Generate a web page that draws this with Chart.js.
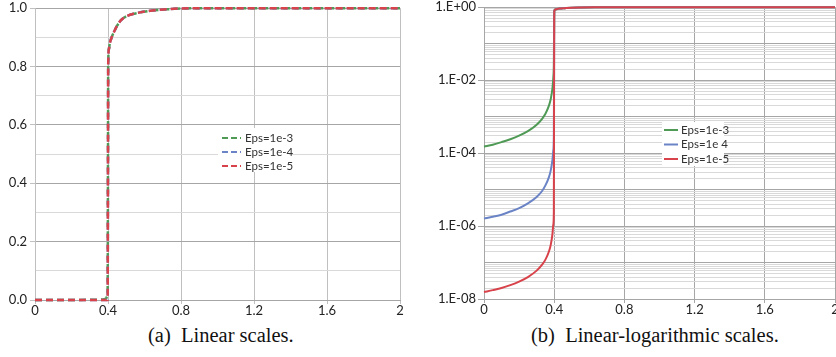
<!DOCTYPE html>
<html>
<head>
<meta charset="utf-8">
<script src="https://cdn.jsdelivr.net/npm/chart.js@4.4.0/dist/chart.umd.min.js"></script>
<style>
html, body { margin: 0; padding: 0; background: #fff; overflow: hidden; width: 836px; height: 357px; }
#wrapA { position: absolute; left: 0; top: 0; }
#wrapB { position: absolute; left: 420px; top: 0; }
.cap { position: absolute; top: 324px; font-family: "Liberation Serif", "DejaVu Serif", serif; font-size: 20.5px; color: #111; white-space: pre; }
</style>
</head>
<body>
<div id="wrapA"><canvas id="linChart" width="410" height="320"></canvas></div>
<div id="wrapB"><canvas id="logChart" width="430" height="320"></canvas></div>
<div class="cap" style="left:148px">(a)  Linear scales.</div>
<div class="cap" style="left:531px">(b)  Linear-logarithmic scales.</div>
<script>
// x positions of the sampled points
var xs = [0, 0.05, 0.1, 0.15, 0.2, 0.25, 0.3, 0.33, 0.35, 0.37, 0.38, 0.39, 0.395, 0.398,
          0.4, 0.401, 0.405, 0.41, 0.42, 0.43, 0.45, 0.47, 0.5, 0.55, 0.63, 0.72, 0.8, 1.0, 1.2, 1.6, 2.0];

// (before the jump) and the linear plot (after it)
var eps3 = [1.5e-4, 1.7e-4, 2.0e-4, 2.4e-4, 3.0e-4, 4.0e-4, 6.0e-4, 8.6e-4, 1.2e-3, 2.0e-3, 3.0e-3, 6.0e-3, 1.2e-2, 3e-2,
            0.5, 0.8, 0.86, 0.88, 0.9, 0.915, 0.94, 0.958, 0.972, 0.982, 0.991, 0.996, 0.999, 1.0, 1.0, 1.0, 1.0];
var eps4 = [1.6e-6, 1.8e-6, 2.05e-6, 2.5e-6, 3.1e-6, 4.2e-6, 6.3e-6, 9.0e-6, 1.3e-5, 2.2e-5, 3.3e-5, 6.5e-5, 1.2e-4, 3e-4,
            0.5, 0.8, 0.86, 0.88, 0.9, 0.915, 0.94, 0.958, 0.972, 0.982, 0.991, 0.996, 0.999, 1.0, 1.0, 1.0, 1.0];
var eps5 = [1.55e-8, 1.75e-8, 2.0e-8, 2.4e-8, 3.0e-8, 4.0e-8, 6.0e-8, 8.6e-8, 1.2e-7, 2.0e-7, 3.0e-7, 6.0e-7, 1.1e-6, 2.5e-6,
            0.5, 0.8, 0.86, 0.88, 0.9, 0.915, 0.94, 0.958, 0.972, 0.982, 0.991, 0.996, 0.999, 1.0, 1.0, 1.0, 1.0];

var labelsA = ['Eps=1e-3', 'Eps=1e-4', 'Eps=1e-5'];
var labelsB = ['Eps=1e-3', 'Eps=1e 4', 'Eps=1e-5'];
var colors = ['#4f9a55', '#6b84c6', '#d8434b'];

var xTicks = [0, 0.4, 0.8, 1.2, 1.6, 2];
var xTickLabels = ['0', '0.4', '0.8', '1.2', '1.6', '2'];
var yLinTicks = [0, 0.1, 0.2, 0.3, 0.4, 0.5, 0.6, 0.7, 0.8, 0.9, 1.0];
var yLinLabels = ['0.0', '', '0.2', '', '0.4', '', '0.6', '', '0.8', '', '1.0'];
var yLogLabelVals = [1e-8, 1e-6, 1e-4, 1e-2, 1];
var yLogLabels = ['1.E-08', '1.E-06', '1.E-04', '1.E-02', '1.E+00'];
var decades = [-8, -7, -6, -5, -4, -3, -2, -1];

var tickFont = { family: 'Lato', size: 13, lineHeight: 0.8 };

function pts(ys) {
  return xs.map(function (x, i) { return { x: x, y: ys[i] }; });
}

function makeSets(labels, dashed) {
  return [eps3, eps4, eps5].map(function (ys, i) {
    return {
      label: labels[i],
      data: pts(ys),
      borderColor: colors[i],
      borderWidth: dashed ? 2.5 : 2,
      borderDash: dashed ? [7, 4] : [],
      pointRadius: 0,
      fill: false,
      cubicInterpolationMode: 'monotone',
      clip: false,
      order: 2 - i
    };
  });
}

// legend drawn inside the plot, like the spreadsheet one
var boxLegend = {
  id: 'boxLegend',
  beforeDatasetsDraw: function (chart, args, o) {
    var ctx = chart.ctx;
    ctx.save();
    ctx.fillStyle = '#fff';
    ctx.fillRect(o.x, o.y, o.w, o.h);
    ctx.font = '11.5px Lato';
    ctx.textBaseline = 'middle';
    chart.data.datasets.forEach(function (ds, i) {
      var y = o.y0 + i * o.rowH;
      ctx.strokeStyle = ds.borderColor;
      ctx.lineWidth = 2;
      ctx.setLineDash(o.dash);
      ctx.beginPath();
      ctx.moveTo(o.lx, y);
      ctx.lineTo(o.lx + o.lw, y);
      ctx.stroke();
      ctx.setLineDash([]);
      ctx.fillStyle = '#333';
      ctx.fillText(ds.label, o.tx, y);
    });
    ctx.restore();
  }
};

new Chart(document.getElementById('linChart'), {
  type: 'line',
  data: { datasets: makeSets(labelsA, true) },
  plugins: [boxLegend],
  options: {
    responsive: false,
    animation: false,
    layout: { padding: { top: 7, right: 10, left: 0, bottom: 0 } },
    plugins: {
      legend: { display: false },
      tooltip: { enabled: false },
      boxLegend: { x: 218, y: 128, w: 71, h: 44, y0: 138, rowH: 14, lx: 222, lw: 19, tx: 245, dash: [6, 3] }
    },
    scales: {
      x: {
        type: 'linear', min: 0, max: 2,
        afterBuildTicks: function (s) { s.ticks = xTicks.map(function (v) { return { value: v }; }); },
        afterFit: function (s) { s.height = 20; },
        ticks: { font: tickFont, color: '#222', padding: 2, maxRotation: 0,
                 callback: function (v, i) { return xTickLabels[i]; } },
        grid: { color: '#c0c0c0', tickColor: '#c0c0c0', tickLength: 4, lineWidth: 1 },
        border: { color: '#a6a6a6' }
      },
      y: {
        type: 'linear', min: 0, max: 1,
        afterBuildTicks: function (s) { s.ticks = yLinTicks.map(function (v) { return { value: v }; }); },
        afterFit: function (s) { s.width = 35; },
        ticks: { font: tickFont, color: '#222', padding: 3,
                 callback: function (v, i) { return yLinLabels[i]; } },
        grid: {
          color: function (c) { return c.index % 2 ? '#d9d9d9' : '#a6a6a6'; },
          tickColor: function (c) { return c.index % 2 ? 'rgba(0,0,0,0)' : '#c0c0c0'; },
          tickLength: 5
        },
        border: { color: '#c0c0c0' }
      }
    }
  }
});

new Chart(document.getElementById('logChart'), {
  type: 'line',
  data: { datasets: makeSets(labelsB, false) },
  plugins: [boxLegend],
  options: {
    responsive: false,
    animation: false,
    layout: { padding: { top: 5, right: 15, left: 0, bottom: 0 } },
    plugins: {
      legend: { display: false },
      tooltip: { enabled: false },
      boxLegend: { x: 242, y: 122, w: 62, h: 44, y0: 130, rowH: 14.5, lx: 244, lw: 14, tx: 261, dash: [] }
    },
    scales: {
      x: {
        type: 'linear', min: 0, max: 2,
        afterBuildTicks: function (s) { s.ticks = xTicks.map(function (v) { return { value: v }; }); },
        afterFit: function (s) { s.height = 21; },
        ticks: { font: tickFont, color: '#222', padding: 2, maxRotation: 0,
                 callback: function (v, i) { return xTickLabels[i]; } },
        grid: { color: '#a6a6a6', tickColor: '#a6a6a6', tickLength: 4 },
        border: { color: '#a6a6a6' }
      },
      y: {
        type: 'logarithmic', min: 1e-8, max: 1,
        afterBuildTicks: function (s) {
          var t = [];
          decades.forEach(function (e) {
            for (var m = 1; m <= 9; m++) t.push({ value: m * Math.pow(10, e), major: m === 1 });
          });
          t.push({ value: 1, major: true });
          s.ticks = t;
        },
        afterFit: function (s) { s.width = 64; },
        ticks: { font: tickFont, color: '#222', padding: 2, autoSkip: false,
                 callback: function (v) {
                   for (var i = 0; i < yLogLabelVals.length; i++) {
                     if (Math.abs(Math.log10(v) - Math.log10(yLogLabelVals[i])) < 1e-6) return yLogLabels[i];
                   }
                   return '';
                 } },
        grid: {
          color: function (c) { return c.tick && c.tick.major ? '#a6a6a6' : '#d9d9d9'; },
          tickColor: function (c) { return c.tick && c.tick.label ? '#a6a6a6' : 'rgba(0,0,0,0)'; },
          tickLength: 6
        },
        border: { color: '#a6a6a6' }
      }
    }
  }
});
</script>
</body>
</html>
